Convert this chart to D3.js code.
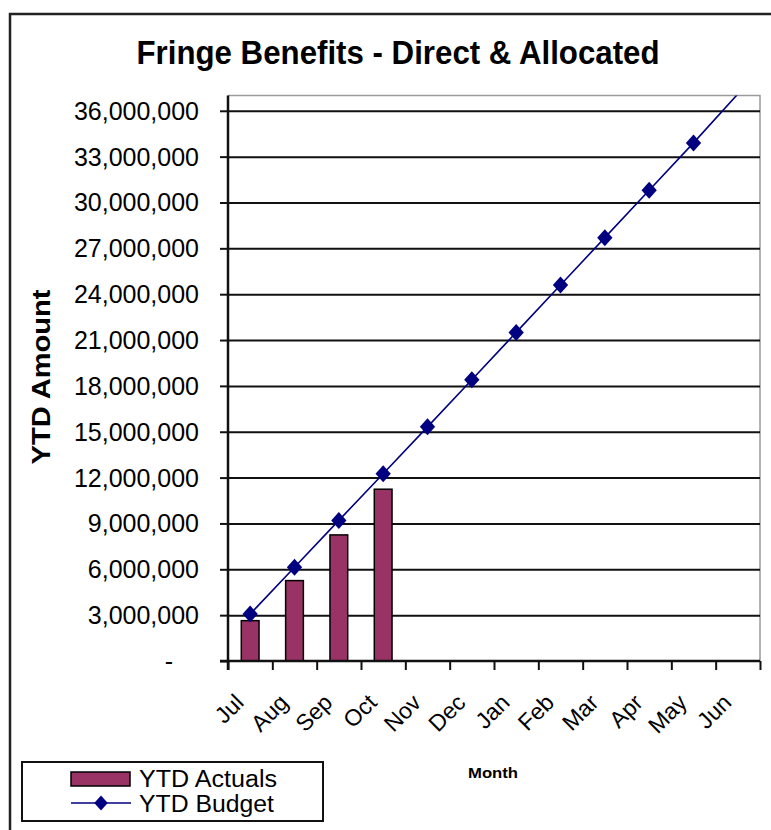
<!DOCTYPE html>
<html>
<head>
<meta charset="utf-8">
<script src="https://cdn.jsdelivr.net/npm/d3@7"></script>
<style>
  body { margin: 0; background: #fff; }
  svg text { font-family: "Liberation Sans", Arial, sans-serif; fill: #000; }
</style>
</head>
<body>
<div id="chart"></div>
<script>
// ytd fringe benefits, actuals vs budget
var months = ['Jul', 'Aug', 'Sep', 'Oct', 'Nov', 'Dec', 'Jan', 'Feb', 'Mar', 'Apr', 'May', 'Jun'];
var ytdActuals = [2640000, 5260000, 8250000, 11240000];
var ytdBudget = [3070000, 6130000, 9200000, 12250000, 15320000, 18400000,
                 21500000, 24600000, 27700000, 30800000, 33900000, 37100000];
var yTicks = [0, 3000000, 6000000, 9000000, 12000000, 15000000, 18000000,
              21000000, 24000000, 27000000, 30000000, 33000000, 36000000];
var yMax = 37000000;

var PLUM = '#993366';
var NAVY = '#000080';

var diamond = function(cx, cy, r) {
    return 'M' + cx + ',' + (cy - r) + 'L' + (cx + r * 0.9) + ',' + cy +
           'L' + cx + ',' + (cy + r) + 'L' + (cx - r * 0.9) + ',' + cy + 'Z';
};

var Chart = function() {
    this.width = 771;
    this.height = 830;
    this.plot = { left: 228, right: 760, top: 95.5, bottom: 661 };
    this.createCanvas();
    this.createScales();
    this.drawGrid();
    this.drawBars();
    this.drawBudget();
    this.drawAxes();
    this.drawText();
    this.drawLegend();
    return this;
};

Chart.prototype.createCanvas = function() {
    this.svg = d3.select('#chart').append('svg')
        .attr('width', this.width)
        .attr('height', this.height);

    this.svg.append('rect')
        .attr('x', 10).attr('y', 14)
        .attr('width', this.width + 20).attr('height', this.height + 20)
        .attr('fill', '#fff')
        .attr('stroke', '#222')
        .attr('stroke-width', 2.5);

    this.svg.append('clipPath').attr('id', 'plotclip')
        .append('rect')
        .attr('x', this.plot.left).attr('y', this.plot.top)
        .attr('width', this.plot.right - this.plot.left)
        .attr('height', this.plot.bottom - this.plot.top);
};

Chart.prototype.createScales = function() {
    this.x = d3.scaleBand()
        .domain(months)
        .range([this.plot.left, this.plot.right])
        .padding(0);
    this.y = d3.scaleLinear()
        .domain([0, yMax])
        .range([this.plot.bottom, this.plot.top]);
};

Chart.prototype.drawGrid = function() {
    var p = this.plot;
    // plot frame (grey top/right)
    this.svg.append('path')
        .attr('d', 'M' + p.left + ',' + p.top + 'H' + p.right + 'V' + p.bottom)
        .attr('fill', 'none')
        .attr('stroke', '#9a9a9a')
        .attr('stroke-width', 1.5);

    this.svg.append('g')
        .attr('transform', 'translate(' + p.left + ',0)')
        .call(d3.axisLeft(this.y).tickValues(yTicks.slice(1))
            .tickSize(-(p.right - p.left)).tickFormat(''))
        .call(function(g) {
            g.select('.domain').remove();
            g.selectAll('line').attr('stroke', '#111').attr('stroke-width', 2);
        });
};

Chart.prototype.drawBars = function() {
    var x = this.x, y = this.y;
    var bw = x.bandwidth() / 2.5;
    this.svg.append('g').selectAll('rect')
        .data(ytdActuals)
        .enter().append('rect')
        .attr('x', function(d, i) { return x(months[i]) + x.bandwidth() / 2 - bw / 2; })
        .attr('y', function(d) { return y(d); })
        .attr('width', bw)
        .attr('height', function(d) { return y(0) - y(d); })
        .attr('fill', PLUM)
        .attr('stroke', '#000')
        .attr('stroke-width', 1.5);
};

Chart.prototype.drawBudget = function() {
    var x = this.x, y = this.y;
    var cx = function(i) { return x(months[i]) + x.bandwidth() / 2; };
    var g = this.svg.append('g').attr('clip-path', 'url(#plotclip)');

    g.append('path')
        .datum(ytdBudget)
        .attr('d', d3.line()
            .x(function(d, i) { return cx(i); })
            .y(function(d) { return y(d); }))
        .attr('fill', 'none')
        .attr('stroke', NAVY)
        .attr('stroke-width', 1.6);

    g.selectAll('.marker')
        .data(ytdBudget.map(function(d, i) { return { v: d, i: i }; })
            .filter(function(d) { return d.v <= yMax; }))
        .enter().append('path')
        .attr('class', 'marker')
        .attr('d', function(d) { return diamond(cx(d.i), y(d.v), 8.5); })
        .attr('fill', NAVY);
};

Chart.prototype.drawAxes = function() {
    var p = this.plot;
    var fmt = d3.format(',');

    this.svg.append('g')
        .attr('transform', 'translate(' + p.left + ',0)')
        .call(d3.axisLeft(this.y).tickValues(yTicks).tickSize(8).tickPadding(21)
            .tickFormat(function(d) { return d === 0 ? '-' : fmt(d); }))
        .call(function(g) {
            g.select('.domain').attr('stroke', '#111').attr('stroke-width', 2.5)
                .attr('d', 'M0,' + p.top + 'V' + (p.bottom + 9));
            g.selectAll('line').attr('stroke', '#111').attr('stroke-width', 2);
            g.selectAll('text')
                .style('font-size', '25px')
                .attr('dy', '0.34em')
                .filter(function(d) { return d === 0; })
                .attr('dx', -26);
        });

    this.svg.append('g')
        .attr('transform', 'translate(0,' + p.bottom + ')')
        .call(d3.axisBottom(d3.scaleLinear().domain([0, 12]).range([p.left, p.right]))
            .ticks(12).tickSize(9).tickFormat(''))
        .call(function(g) {
            g.select('.domain').attr('stroke', '#111').attr('stroke-width', 2.5)
                .attr('d', 'M' + (p.left - 8) + ',0H' + p.right);
            g.selectAll('line').attr('stroke', '#111').attr('stroke-width', 2);
        });

    var x = this.x;
    this.svg.append('g').selectAll('text')
        .data(months)
        .enter().append('text')
        .attr('transform', function(d) {
            return 'translate(' + (x(d) + x.bandwidth() / 2 - 5) + ',' + 704 + ') rotate(-45)';
        })
        .attr('text-anchor', 'end')
        .style('font-size', '23px')
        .text(function(d) { return d; });
};

Chart.prototype.drawText = function() {
    this.svg.append('text')
        .attr('x', 398).attr('y', 64)
        .attr('text-anchor', 'middle')
        .attr('textLength', 523)
        .attr('lengthAdjust', 'spacingAndGlyphs')
        .style('font-size', '33px')
        .style('font-weight', 'bold')
        .text('Fringe Benefits - Direct & Allocated');

    this.svg.append('text')
        .attr('transform', 'translate(50,377) rotate(-90)')
        .attr('text-anchor', 'middle')
        .attr('textLength', 175)
        .attr('lengthAdjust', 'spacingAndGlyphs')
        .style('font-size', '25px')
        .style('font-weight', 'bold')
        .text('YTD Amount');

    this.svg.append('text')
        .attr('x', 493).attr('y', 778)
        .attr('text-anchor', 'middle')
        .attr('textLength', 50)
        .attr('lengthAdjust', 'spacingAndGlyphs')
        .style('font-size', '15px')
        .style('font-weight', 'bold')
        .text('Month');
};

Chart.prototype.drawLegend = function() {
    var g = this.svg.append('g');
    g.append('rect')
        .attr('x', 22).attr('y', 762)
        .attr('width', 301).attr('height', 59)
        .attr('fill', '#fff')
        .attr('stroke', '#111')
        .attr('stroke-width', 2);

    g.append('rect')
        .attr('x', 71).attr('y', 772)
        .attr('width', 59).attr('height', 14)
        .attr('fill', PLUM)
        .attr('stroke', '#000')
        .attr('stroke-width', 1.5);

    g.append('line')
        .attr('x1', 71).attr('x2', 131)
        .attr('y1', 803).attr('y2', 803)
        .attr('stroke', NAVY)
        .attr('stroke-width', 1.6);
    g.append('path')
        .attr('d', diamond(101, 803, 7.5))
        .attr('fill', NAVY);

    var labelWidths = [138, 135];
    g.selectAll('.label')
        .data(['YTD Actuals', 'YTD Budget'])
        .enter().append('text')
        .attr('class', 'label')
        .attr('x', 139)
        .attr('y', function(d, i) { return 787 + i * 25; })
        .attr('textLength', function(d, i) { return labelWidths[i]; })
        .attr('lengthAdjust', 'spacingAndGlyphs')
        .style('font-size', '23px')
        .text(function(d) { return d; });
};

var chart = new Chart();
</script>
</body>
</html>
